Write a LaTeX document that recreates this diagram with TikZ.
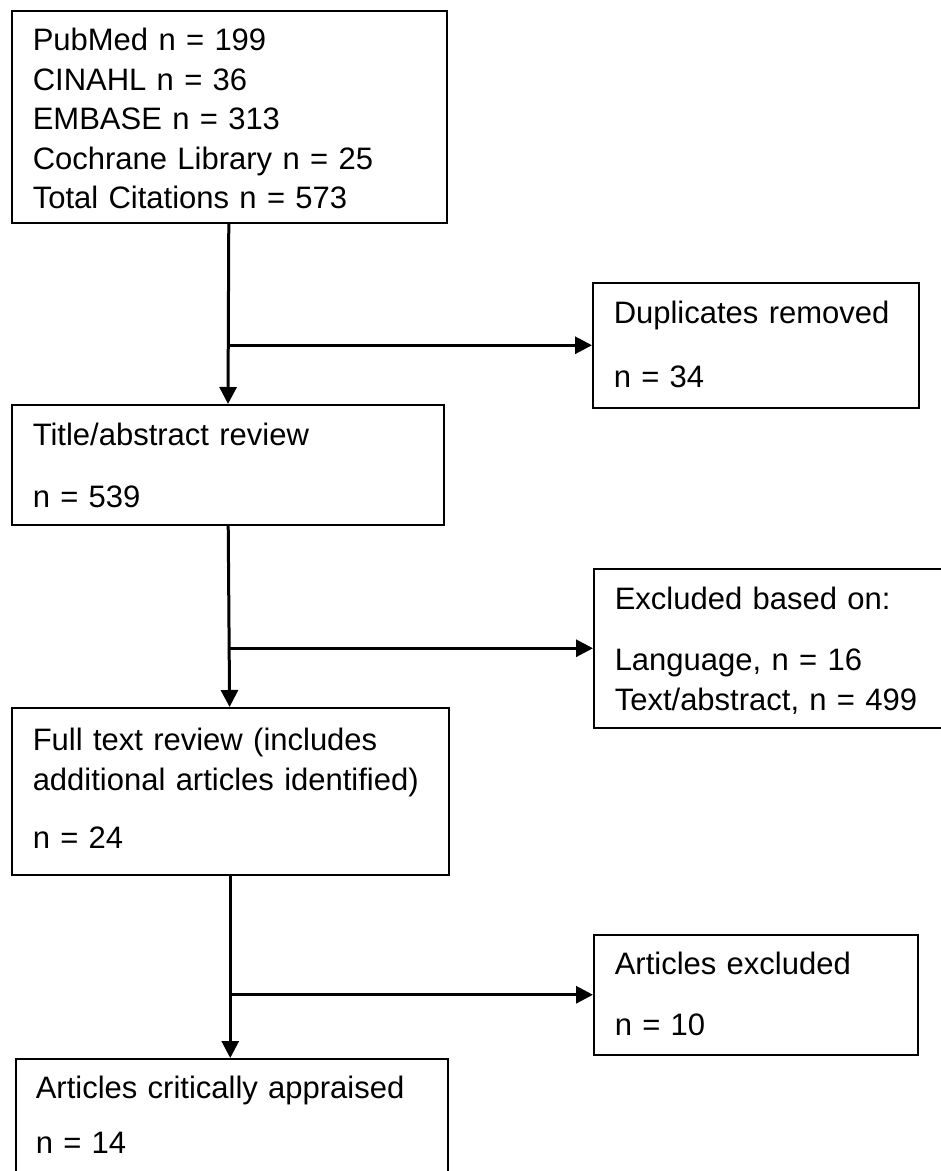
\documentclass[tikz,border=0pt]{standalone}
\usepackage{fontspec}
\setmainfont{Liberation Sans}
\usetikzlibrary{positioning,arrows.meta}

\begin{document}
\begin{tikzpicture}
          [x=1pt, y=-1pt,
           stage/.style={draw=black, line width=1.5pt, anchor=north west,
             align=left, inner ysep=0pt, inner xsep=21pt,
             font=\fontsize{31}{39.5}\selectfont},
           >={Triangle[length=17pt,width=17pt]}
          ]
          \useasboundingbox (0,0) rectangle (941,1171);
          \node[stage, text width=393pt, text height=40pt, text depth=172pt] (search) at (11,10)
            {PubMed n = 199\\CINAHL n = 36\\EMBASE n = 313\\Cochrane Library n = 25\\Total Citations n = 573};
          \node[stage, text width=284pt, text height=41pt, text depth=84pt] (dupl) at (592,282)
            {Duplicates removed\\[24.5pt]n = 34};
          \node[stage, text width=390pt, text height=41pt, text depth=79pt] (title) at (11,404)
            {Title/abstract review\\[22.5pt]n = 539};
          \node[stage, text width=306pt, text height=41pt, text depth=118pt] (excl) at (593,568)
            {Excluded based on:\\[21.5pt]Language, n = 16\\Text/abstract, n = 499};
          \node[stage, text width=395pt, text height=43pt, text depth=124pt] (fulltext) at (11,707)
            {Full text review (includes\\additional articles identified)\\[19pt]n = 24};
          \node[stage, text width=282pt, text height=40pt, text depth=80pt] (artexcl) at (593,934)
            {Articles excluded\\[21.5pt]n = 10};
          \node[stage, text width=392pt, text height=40pt, text depth=132pt, inner xsep=20pt] (appraised) at (15,1058)
            {Articles critically appraised\\[15.5pt]n = 14};
          % junctions on the vertical lines
          \coordinate (j1) at (search.south |- dupl.west);
          \coordinate (j2) at (title.south |- excl.west);
          \coordinate (j3) at (fulltext.south |- artexcl.west);
          \path[->,line width = 3pt]
            (search) edge (title)
            (j1) edge (dupl)
            (title) edge (fulltext)
            (j2) edge (excl)
            (fulltext.south) edge (fulltext.south |- appraised.north)
            (j3) edge (artexcl);
        \end{tikzpicture}
\end{document}
